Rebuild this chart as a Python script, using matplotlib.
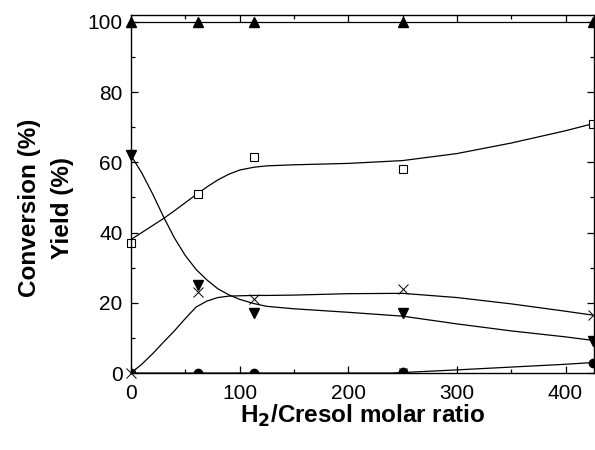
import numpy as np
import matplotlib.pyplot as plt
from matplotlib.ticker import MultipleLocator

plt.rcParams['font.family'] = ['Liberation Sans', 'DejaVu Sans']

# measured points
ratio = [0, 62, 113, 250, 425]
conversion = [100, 100, 100, 100, 100]
yield_sq = [37, 51, 61.5, 58, 71]
yield_down = [62, 25, 17, 17, 9]
yield_x = [0, 23, 21, 24, 16.5]
yield_dot = [0, 0, 0, 0.2, 3]
extra_x = [250]
extra_y = [0.4]

# trend lines
curve_x = [0, 10, 20, 30, 40, 50, 60, 70, 80, 90, 100, 113, 125, 150, 200, 250, 300, 350, 400, 425]
curve_sq = [38, 40, 42, 44, 46.2, 48.5, 50.8, 53, 55, 56.6, 57.8, 58.6, 59, 59.3, 59.7, 60.5, 62.5, 65.5, 69, 71]
curve_down = [62, 57, 51, 44.5, 38.5, 33.5, 29.5, 26.5, 24, 22.3, 21, 19.8, 19, 18.3, 17.3, 16.2, 14, 12, 10.3, 9.3]
curve_x_ser = [0, 2.5, 5.5, 8.8, 12, 15.5, 18.8, 20.5, 21.5, 21.9, 22, 22.1, 22.1, 22.2, 22.6, 22.7, 21.5, 19.7, 17.6, 16.5]
dot_line_x = [0, 240, 300, 350, 400, 425]
dot_line_y = [0, 0, 0.9, 1.7, 2.5, 3]

fig = plt.figure(figsize=(5.95, 4.5), dpi=100)
ax = fig.add_axes([0.220, 0.171, 0.778, 0.796])

lw = 0.9
ax.plot(ratio, conversion, color='black', lw=lw)
ax.plot(curve_x, curve_sq, color='black', lw=lw)
ax.plot(curve_x, curve_down, color='black', lw=lw)
ax.plot(curve_x, curve_x_ser, color='black', lw=lw)
ax.plot(dot_line_x, dot_line_y, color='black', lw=lw)

ax.plot(ratio, conversion, '^', color='black', ms=7, clip_on=False)
ax.plot(ratio, yield_sq, 's', mfc='white', mec='black', mew=0.8, ms=5.5, clip_on=False)
ax.plot(ratio, yield_down, 'v', color='black', ms=7, clip_on=False)
ax.plot(ratio, yield_x, 'x', color='black', mew=0.7, ms=7, clip_on=False)
ax.plot(ratio, yield_dot, 'o', color='black', ms=6)
ax.plot(extra_x, extra_y, 'x', color='black', mew=0.7, ms=6)

ax.set_xlim(0, 426)
ax.set_ylim(0, 102)
ax.xaxis.set_major_locator(MultipleLocator(100))
ax.xaxis.set_minor_locator(MultipleLocator(50))
ax.yaxis.set_major_locator(MultipleLocator(20))
ax.yaxis.set_minor_locator(MultipleLocator(10))
ax.tick_params(which='both', direction='in', top=True, right=True, labelsize=15, width=0.9)
ax.tick_params(which='major', length=5)
ax.tick_params(which='minor', length=3)
ax.tick_params(axis='x', pad=8)
ax.tick_params(axis='y', pad=6)
for s in ax.spines.values():
    s.set_linewidth(1.0)

ax.set_xlabel('H$_\\mathbf{2}$/Cresol molar ratio', fontsize=17.5, fontweight='bold', labelpad=0)
ax.set_ylabel('Conversion (%)\nYield (%)', fontsize=17.5, fontweight='bold', linespacing=1.6)
ax.yaxis.set_label_coords(-0.122, 0.46)

fig.savefig('out.png', dpi=100)
